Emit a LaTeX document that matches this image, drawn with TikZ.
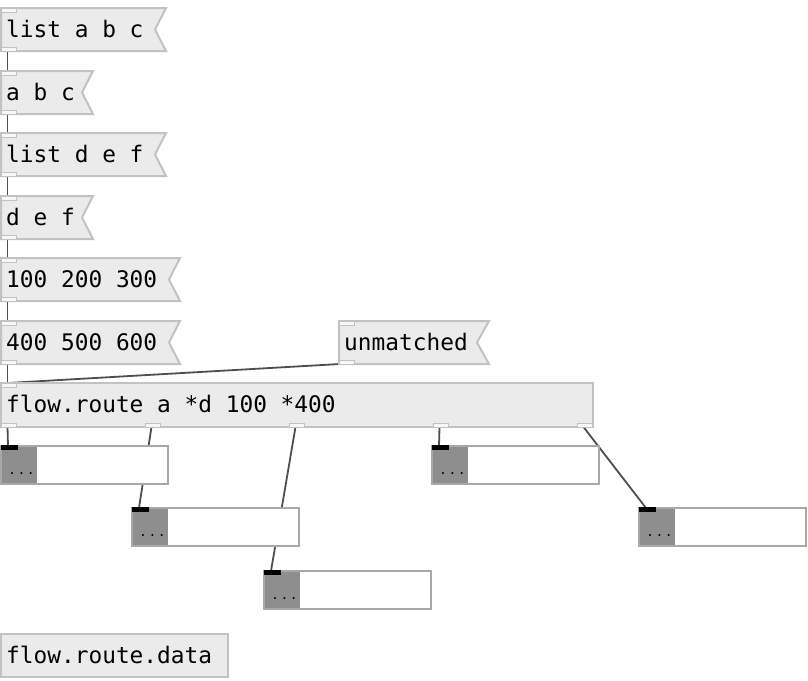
\documentclass[tikz,border=0pt]{standalone}
\usepackage{fontspec}
\setmonofont{DejaVu Sans Mono}
\usetikzlibrary{calc}
\pgfdeclarelayer{background}
\pgfsetlayers{background,main}
\definecolor{boxfill}{HTML}{EBEBEB}
\definecolor{boxline}{HTML}{C2C2C2}
\definecolor{wirecol}{HTML}{4E4E4E}
\definecolor{numgray}{HTML}{8E8E8E}
\definecolor{numline}{HTML}{A8A8A8}

\begin{document}
\begin{tikzpicture}[x=1pt,y=-1pt,
    box/.style={fill=boxfill,draw=boxline,line width=2pt},
    nub/.style={fill=white!60!boxfill,draw=boxline,line width=1pt},
    txt/.style={anchor=base west,inner sep=0pt,font=\ttfamily\fontsize{22.8}{27}\selectfont},
    dots/.style={anchor=base west,inner sep=0pt,font=\ttfamily\fontsize{13}{15}\selectfont},
    wire/.style={draw=wirecol,line width=1.8pt}]
        \useasboundingbox (0,0) rectangle (808,680);
        % message boxes down the left side
        \foreach \y/\rx/\txt/\name in {8/166/list a b c/m1, 71/93/a b c/m2,
            133/166/list d e f/m3, 196/93/d e f/m4,
            258/180/100 200 300/m5, 321/180/400 500 600/m6}
        {
        \draw[box] (1,\y) -- (\rx,\y) -- ++(-11,21.5) -- ++(11,21.5) -- (1,\y+43) -- cycle;
        \draw[nub] (1,\y) rectangle ++(15,4);
        \draw[nub] (1,\y+43) rectangle ++(15,-4);
        \node[txt] (\name) at (6,\y+29) {\txt};
        \coordinate (\name-in) at (7.5,\y);
        \coordinate (\name-out) at (7.5,\y+43);
        }
        % the unmatched message
        \draw[box] (339,321) -- (489,321) -- ++(-12,21.5) -- ++(12,21.5) -- (339,364) -- cycle;
        \draw[nub] (339,321) rectangle ++(15,4);
        \draw[nub] (339,364) rectangle ++(15,-4);
        \node[txt] (um) at (344,350) {unmatched};
        \coordinate (um-out) at (340,364);
        % the object
        \draw[box] (1,383) rectangle (593,427);
        \draw[nub] (1,383) rectangle ++(15,4);
        \node[txt] (fr) at (6,412) {flow.route a *d 100 *400};
        \coordinate (fr-in) at (7.5,383);
        \foreach \i in {1,...,5}
        {
        \draw[nub] (1+144*\i-144,427) rectangle ++(15,-4);
        \coordinate (fr-out\i) at (7.5+144*\i-144,427);
        }
        % number boxes
        \foreach \x/\y/\i in {1/446/1, 132/508/2, 264/571/3, 432/446/4, 639/508/5}
        {
        \draw[fill=white,draw=numline,line width=2pt] (\x,\y) rectangle ++(167,38);
        \fill[numgray] (\x+1,\y+1) rectangle ++(35,36);
        \fill[black] (\x,\y-1) rectangle ++(17,5);
        \node[dots] (o\i) at (\x+7,\y+28) {.\kern1.5pt.\kern1.5pt.};
        \coordinate (o\i-in) at (\x+7,\y);
        }
        \draw[box] (1,634) rectangle (228,677);
        \node[txt] (frd) at (6,663) {flow.route.data};
        % connections
        \begin{pgfonlayer}{background}
        \foreach \a/\b in {m1/m2, m2/m3, m3/m4, m4/m5, m5/m6, m6/fr}
        \draw[wire] (\a-out) -- (\b-in);
        \draw[wire] (um-out) -- (fr-in);
        \foreach \i in {1,...,5}
        \draw[wire] (fr-out\i) -- (o\i-in);
        \end{pgfonlayer}
\end{tikzpicture}
\end{document}
